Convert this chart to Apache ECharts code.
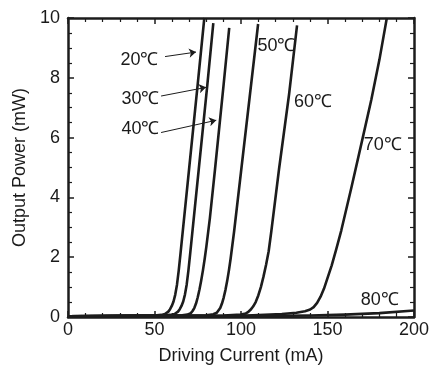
<!DOCTYPE html>
<html>
<head>
<meta charset="utf-8">
<script src="https://cdn.jsdelivr.net/npm/echarts@6/dist/echarts.min.js"></script>
<style>html,body{margin:0;padding:0;background:#fff}#c{width:432px;height:370px}</style>
</head>
<body>
<div id="c"></div>
<script>
// Output power (mW) vs driving current (mA)
const I20 = [0, 20, 40, 50, 54, 56, 57, 58, 59, 60, 61, 62, 63, 64, 65, 70, 75, 78.8];
const P20 = [0.02, 0.03, 0.04, 0.05, 0.07, 0.1, 0.13, 0.18, 0.26, 0.37, 0.52, 0.75, 1.08, 1.55, 2.1, 4.95, 7.8, 10];
const I30 = [0, 20, 40, 55, 59, 61.6, 62.6, 63.6, 64.6, 65.6, 66.6, 67.6, 68.6, 69.6, 70.6, 75.6, 80.6, 84.0];
const P30 = [0.02, 0.03, 0.04, 0.05, 0.07, 0.1, 0.13, 0.18, 0.26, 0.37, 0.52, 0.75, 1.08, 1.55, 2.1, 4.95, 7.8, 9.83];
const I40 = [0, 20, 40, 60, 66, 69, 70, 71, 72, 73, 74, 75, 76, 77, 78, 79, 80, 82, 85, 90, 93.2];
const P40 = [0.02, 0.03, 0.04, 0.05, 0.06, 0.08, 0.1, 0.13, 0.2, 0.3, 0.45, 0.66, 0.92, 1.22, 1.56, 1.94, 2.36, 3.3, 4.95, 7.8, 9.67];
const I50 = [0, 20, 40, 60, 80, 84, 86, 87, 88, 89, 90, 91, 92, 93, 94, 96, 100, 105, 109.9];
const P50 = [0.02, 0.03, 0.04, 0.05, 0.06, 0.09, 0.14, 0.2, 0.3, 0.45, 0.65, 0.9, 1.2, 1.55, 1.95, 2.85, 4.85, 7.35, 9.8];
const I60 = [0, 20, 40, 60, 90, 100, 102.8, 104, 105.5, 107, 108.5, 110, 111.5, 113, 114.5, 116, 117.5, 122, 127.8, 132.4];
const P60 = [0.02, 0.03, 0.04, 0.04, 0.05, 0.08, 0.12, 0.16, 0.24, 0.35, 0.5, 0.72, 1.0, 1.35, 1.75, 2.2, 2.85, 4.95, 7.45, 9.75];
const I70 = [0, 20, 40, 60, 100, 123.6, 132, 137, 140, 142, 144, 146, 148, 150, 152.4, 155, 158, 163.9, 170, 175.4, 180, 184.3];
const P70 = [0.02, 0.02, 0.03, 0.03, 0.04, 0.1, 0.14, 0.19, 0.25, 0.33, 0.47, 0.68, 0.95, 1.3, 1.72, 2.25, 2.9, 4.35, 5.9, 7.28, 8.6, 10];
const I80 = [0, 50, 100, 140, 160, 180, 200];
const P80 = [0.02, 0.02, 0.03, 0.05, 0.08, 0.13, 0.22];

const xTicks = [0, 50, 100, 150, 200];
const yTicks = [0, 2, 4, 6, 8, 10];

const labelText = ['20℃', '30℃', '40℃', '50℃', '60℃', '70℃', '80℃'];
const labelX = [41.3, 41.9, 41.9, 120.5, 141.6, 181.9, 180.2];
const labelY = [8.6, 7.28, 6.28, 9.07, 7.18, 5.75, 0.56];

const arrowFromX = [56.1, 53.8, 53.8];
const arrowFromY = [8.71, 7.39, 6.17];
const arrowToX = [74.0, 79.8, 85.7];
const arrowToY = [8.86, 7.68, 6.58];

const curves = [[I20, P20], [I30, P30], [I40, P40], [I50, P50], [I60, P60], [I70, P70], [I80, P80]];

const INK = '#1c1c1c';
const TXT = '#1a1a1a';
const FONT = "'Liberation Sans', Arial, sans-serif";

function axis(opts) {
  return Object.assign({
    type: 'value',
    axisLine: { show: true, onZero: false, lineStyle: { color: INK, width: 2.5 } },
    axisTick: { show: true, inside: true, length: 6, lineStyle: { color: INK, width: 1.5 } },
    minorTick: { show: true, splitNumber: opts.minorSplit, length: 4, lineStyle: { color: INK, width: 1.2 } },
    splitLine: { show: false },
    minorSplitLine: { show: false },
    axisLabel: { show: opts.labels, color: TXT, fontSize: 18, fontFamily: FONT, margin: opts.margin || 8 }
  }, opts.extra);
}

const chart = echarts.init(document.getElementById('c'), null, { renderer: 'canvas' });

const series = curves.map(c => ({
  type: 'line',
  xAxisIndex: 0, yAxisIndex: 0,
  data: c[0].map((x, i) => [x, c[1][i]]),
  showSymbol: false,
  smooth: false,
  lineStyle: { color: INK, width: 2.6, join: 'round' },
  z: 3,
  animation: false
}));

series.push({
  type: 'lines',
  coordinateSystem: 'cartesian2d',
  xAxisIndex: 0, yAxisIndex: 0,
  symbol: ['none', 'arrow'],
  symbolSize: [0, 7],
  lineStyle: { color: INK, width: 1, opacity: 1 },
  data: arrowFromX.map((x, i) => ({ coords: [[x, arrowFromY[i]], [arrowToX[i], arrowToY[i]]] })),
  animation: false,
  z: 4
});

series.push({
  type: 'scatter',
  xAxisIndex: 0, yAxisIndex: 0,
  symbolSize: 1,
  itemStyle: { opacity: 0 },
  data: labelText.map((t, i) => [labelX[i], labelY[i], t]),
  label: {
    show: true, position: 'inside',
    formatter: p => p.value[2],
    color: TXT, fontSize: 18, fontFamily: FONT,
    textBorderWidth: 0, textBorderColor: 'transparent', opacity: 1
  },
  emphasis: { disabled: true },
  silent: true,
  animation: false,
  z: 5
});

chart.setOption({
  animation: false,
  backgroundColor: '#fff',
  grid: { left: 68, right: 17, top: 18, bottom: 51, containLabel: false },
  xAxis: [
    axis({ minorSplit: 5, labels: true, margin: 4, extra: {
      position: 'bottom', min: xTicks[0], max: xTicks[xTicks.length - 1], interval: 50,
      name: 'Driving Current (mA)', nameLocation: 'middle', nameGap: 30,
      nameTextStyle: { color: TXT, fontSize: 18, fontFamily: FONT } } }),
    axis({ minorSplit: 5, labels: false, extra: { position: 'top', min: 0, max: 200, interval: 50 } })
  ],
  yAxis: [
    axis({ minorSplit: 4, labels: true, margin: 8, extra: {
      position: 'left', min: yTicks[0], max: yTicks[yTicks.length - 1], interval: 2,
      name: 'Output Power (mW)', nameLocation: 'middle', nameGap: 38,
      nameTextStyle: { color: TXT, fontSize: 18, fontFamily: FONT } } }),
    axis({ minorSplit: 4, labels: false, extra: { position: 'right', min: 0, max: 10, interval: 2 } })
  ],
  series: series
});
</script>
</body>
</html>
